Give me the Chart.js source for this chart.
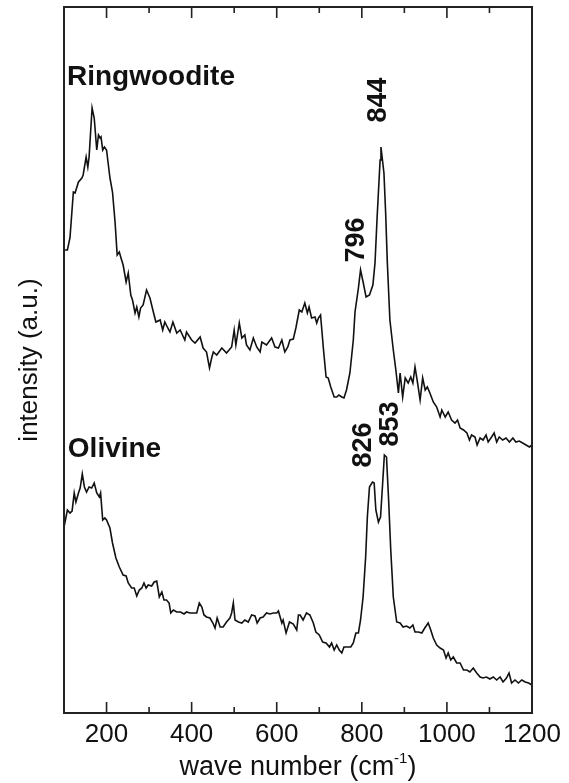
<!DOCTYPE html>
<html>
<head>
<meta charset="utf-8">
<script src="https://cdn.jsdelivr.net/npm/chart.js@4.4.1/dist/chart.umd.min.js"></script>
<style>
  html, body { margin: 0; padding: 0; background: #fff; }
  #chart { display: block; }
</style>
</head>
<body>
<canvas id="chart" width="569" height="783"></canvas>
<script>
// Raman spectra, intensity in arbitrary units
const ringWave = [100,108,114,122,126,134,142,145,152,156,159,166,171,177,181,185,187,191,195,200,
  208,214,220,225,230,234,239,246,251,257,261,267,271,276,280,286,294,302,310,316,
  326,332,337,344,349,356,365,373,384,388,400,408,420,427,435,442,447,451,459,471,
  482,494,500,504,512,518,525,529,537,545,553,561,565,576,588,596,604,612,619,626,
  631,639,645,653,659,666,672,676,682,690,694,698,703,710,716,721,727,735,741,746,
  753,758,764,772,780,784,792,797,803,810,818,826,831,836,843,845,852,856,860,866,
  874,880,886,890,896,902,909,915,920,925,930,937,943,949,954,960,968,976,984,988,
  996,1003,1011,1019,1025,1031,1039,1047,1053,1058,1066,1071,1078,1085,1092,1097,1105,1111,1117,1123,
  1131,1139,1147,1155,1162,1170,1178,1186,1194,1200];
const ringInt = [463,463,475,521,520,531,535,538,556,546,556,605,595,563,578,575,576,563,566,563,
  535,521,491,458,461,455,448,431,440,418,413,400,406,396,405,408,423,415,401,391,
  393,383,391,385,381,391,380,383,373,381,373,370,376,365,361,345,355,361,358,365,
  360,366,383,368,390,375,378,368,363,375,366,361,371,368,375,366,365,373,361,366,
  373,374,385,403,401,410,400,406,395,396,390,395,398,363,336,335,326,316,316,318,
  316,315,323,340,373,401,425,443,431,416,418,428,450,496,553,566,540,500,450,393,
  363,343,320,340,316,335,330,336,330,346,333,313,335,323,326,320,311,306,296,303,
  296,301,293,290,293,285,283,280,273,278,276,268,275,273,278,271,276,280,271,276,
  273,275,271,275,271,272,270,268,266,268];

const olivWave = [100,108,114,119,124,128,134,138,143,148,153,159,165,171,177,183,186,191,196,200,
  208,214,222,230,239,246,251,259,265,271,277,283,288,293,298,306,312,318,324,330,
  335,341,347,351,357,365,374,382,388,396,404,412,418,424,429,435,443,450,455,460,
  467,474,482,490,494,498,502,510,518,525,533,541,549,554,561,568,576,584,592,600,
  604,612,615,622,630,639,647,651,655,662,670,678,686,692,700,708,716,724,729,735,
  741,747,753,758,766,774,780,786,792,797,803,809,813,818,825,829,833,839,844,849,
  853,858,863,868,874,882,890,897,905,913,920,925,933,941,948,956,962,968,976,984,
  992,998,1003,1009,1015,1023,1031,1039,1047,1054,1062,1070,1078,1085,1093,1101,1109,1117,1125,1132,
  1140,1146,1152,1160,1168,1176,1184,1192,1200];
const olivInt = [186,203,200,202,220,211,220,225,239,226,221,226,225,230,220,216,220,193,195,193,
  185,170,155,146,138,137,130,125,125,117,123,125,130,125,128,127,131,132,116,121,
  113,113,110,100,103,101,101,99,101,100,100,100,110,106,98,96,95,90,85,95,
  86,86,91,95,100,110,93,91,90,93,91,98,97,90,95,96,100,99,100,100,
  102,90,93,80,91,89,83,98,98,93,100,98,90,81,78,71,70,66,70,63,
  68,63,60,66,66,66,70,80,80,93,116,156,196,226,231,230,203,191,196,230,
  258,256,213,163,116,91,90,86,87,85,88,81,81,80,85,90,83,75,68,65,
  63,55,60,53,56,50,50,43,43,41,45,40,36,35,36,34,36,33,36,31,
  35,40,30,33,30,33,31,30,28];

const tickValues = [200, 400, 600, 800, 1000, 1200];
const minorTicks = [300, 500, 700, 900, 1100];

// sample names and peak labels, anchored at wave number / intensity
const sampleNames = ['Ringwoodite', 'Olivine'];
const sampleAt = [[107, 628], [109, 256]];
const peakNames = ['844', '796', '826', '853'];
const peakAt = [[840, 613], [788, 473], [803, 268], [868, 289]];

const FONT = '"Liberation Sans", Arial, sans-serif';
Chart.defaults.font.family = FONT;
Chart.defaults.color = '#111';

function toPoints(xs, ys) {
  return xs.map((v, i) => ({ x: v, y: ys[i] }));
}

// frame, inward ticks, labels and the x title with superscript
const decorations = {
  id: 'decorations',
  afterDraw(chart) {
    const ctx = chart.ctx;
    const a = chart.chartArea;
    const xs = chart.scales.x, ys = chart.scales.y;
    ctx.save();
    ctx.strokeStyle = '#222';
    ctx.lineWidth = 2;
    ctx.strokeRect(a.left, a.top, a.right - a.left, a.bottom - a.top);

    ctx.lineWidth = 1.6;
    ctx.beginPath();
    tickValues.forEach(v => {
      const px = xs.getPixelForValue(v);
      ctx.moveTo(px, a.bottom); ctx.lineTo(px, a.bottom - 11);
      ctx.moveTo(px, a.top); ctx.lineTo(px, a.top + 11);
    });
    minorTicks.forEach(v => {
      const px = xs.getPixelForValue(v);
      ctx.moveTo(px, a.bottom); ctx.lineTo(px, a.bottom - 6);
      ctx.moveTo(px, a.top); ctx.lineTo(px, a.top + 6);
    });
    ctx.stroke();

    ctx.fillStyle = '#111';
    ctx.font = 'bold 28px ' + FONT;
    ctx.textAlign = 'left';
    ctx.textBaseline = 'alphabetic';
    sampleNames.forEach((t, i) => {
      ctx.fillText(t, xs.getPixelForValue(sampleAt[i][0]), ys.getPixelForValue(sampleAt[i][1]));
    });
    ctx.font = 'bold 27px ' + FONT;
    peakNames.forEach((t, i) => {
      ctx.save();
      ctx.translate(xs.getPixelForValue(peakAt[i][0]), ys.getPixelForValue(peakAt[i][1]));
      ctx.rotate(-Math.PI / 2);
      ctx.textAlign = 'center';
      ctx.textBaseline = 'middle';
      ctx.fillText(t, 0, 0);
      ctx.restore();
    });

    // wave number (cm-1)
    const main = 'wave number (cm', sup = '-1', tail = ')';
    ctx.font = '27px ' + FONT;
    const w1 = ctx.measureText(main).width, w3 = ctx.measureText(tail).width;
    ctx.font = '15px ' + FONT;
    const w2 = ctx.measureText(sup).width;
    let x0 = (a.left + a.right) / 2 - (w1 + w2 + w3) / 2;
    const base = 775;
    ctx.textAlign = 'left';
    ctx.font = '27px ' + FONT;
    ctx.fillText(main, x0, base);
    ctx.font = '15px ' + FONT;
    ctx.fillText(sup, x0 + w1, base - 12);
    ctx.font = '27px ' + FONT;
    ctx.fillText(tail, x0 + w1 + w2, base);
    ctx.restore();
  }
};

new Chart(document.getElementById('chart'), {
  type: 'line',
  data: {
    datasets: [
      { label: 'Ringwoodite', data: toPoints(ringWave, ringInt) },
      { label: 'Olivine', data: toPoints(olivWave, olivInt) }
    ]
  },
  options: {
    responsive: false,
    animation: false,
    layout: { padding: { top: 7, right: 37, left: 0, bottom: 0 } },
    elements: {
      line: { borderColor: '#111', borderWidth: 1.6, tension: 0 },
      point: { radius: 0 }
    },
    plugins: { legend: { display: false }, tooltip: { enabled: false } },
    scales: {
      x: {
        type: 'linear',
        min: 100,
        max: 1200,
        grid: { display: false, drawTicks: false },
        border: { display: false },
        afterBuildTicks: s => { s.ticks = tickValues.map(v => ({ value: v })); },
        afterFit: s => { s.height = 70; },
        ticks: {
          font: { size: 26 },
          padding: 6,
          maxRotation: 0,
          autoSkip: false,
          color: '#111',
          callback: v => String(v)
        }
      },
      y: {
        type: 'linear',
        min: 0,
        max: 706,
        grid: { display: false, drawTicks: false },
        border: { display: false },
        ticks: { display: false },
        afterFit: s => { s.width = 64; },
        title: {
          display: true,
          text: 'intensity (a.u.)',
          font: { size: 26 },
          padding: { top: 14, bottom: 0 },
          color: '#111'
        }
      }
    }
  },
  plugins: [decorations]
});
</script>
</body>
</html>
